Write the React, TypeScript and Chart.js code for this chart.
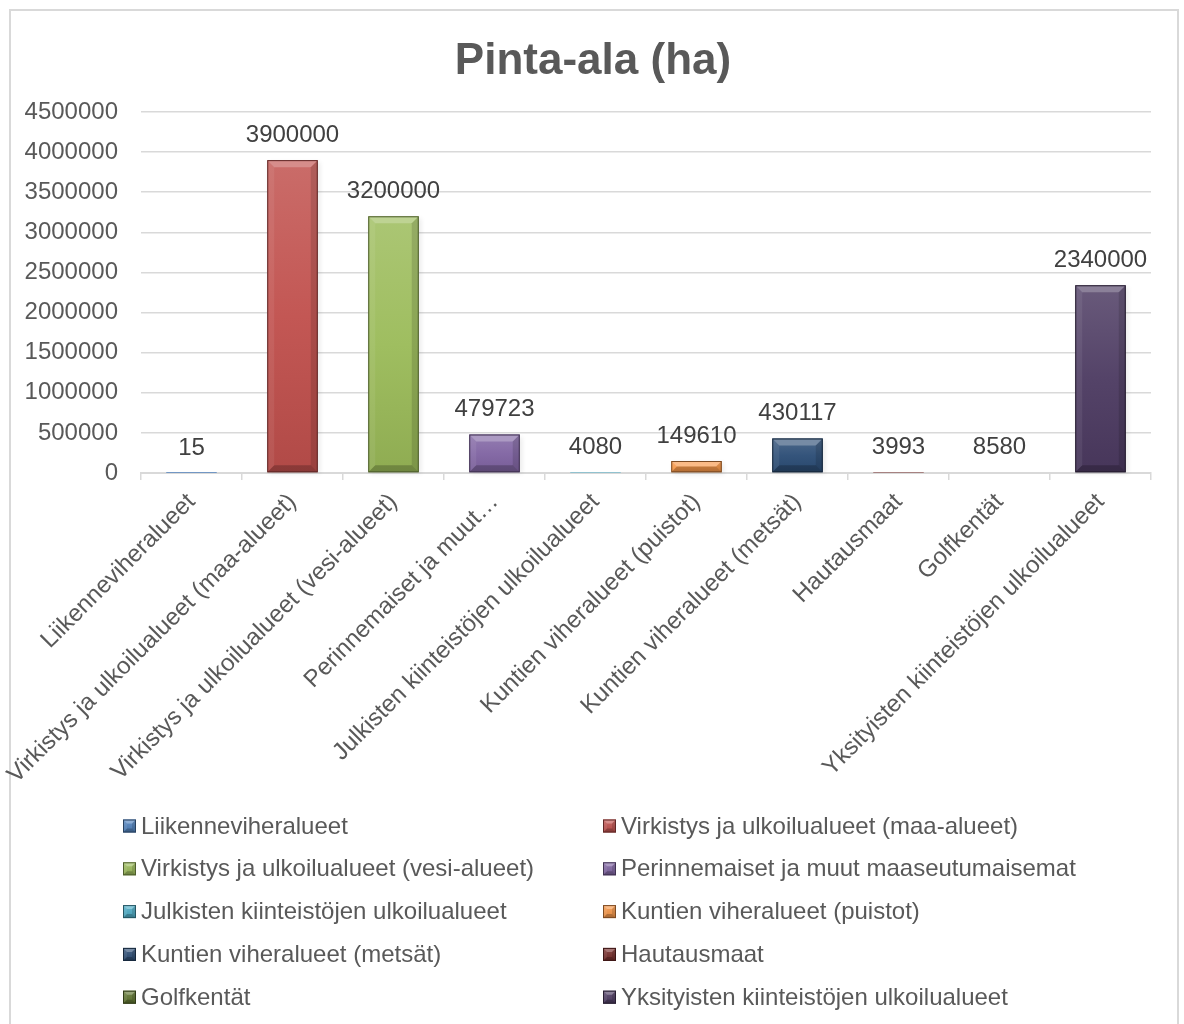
import { useEffect, useRef } from 'react';
import { Chart, registerables } from 'chart.js';

Chart.register(...registerables);

// Land-use categories (legend names) and the shorter axis labels
const categories = [
  'Liikenneviheralueet',
  'Virkistys ja ulkoilualueet (maa-alueet)',
  'Virkistys ja ulkoilualueet (vesi-alueet)',
  'Perinnemaiset ja muut maaseutumaisemat',
  'Julkisten kiinteistöjen ulkoilualueet',
  'Kuntien viheralueet (puistot)',
  'Kuntien viheralueet (metsät)',
  'Hautausmaat',
  'Golfkentät',
  'Yksityisten kiinteistöjen ulkoilualueet',
];

const tickLabels = [
  'Liikenneviheralueet',
  'Virkistys ja ulkoilualueet (maa-alueet)',
  'Virkistys ja ulkoilualueet (vesi-alueet)',
  'Perinnemaiset ja muut…',
  'Julkisten kiinteistöjen ulkoilualueet',
  'Kuntien viheralueet (puistot)',
  'Kuntien viheralueet (metsät)',
  'Hautausmaat',
  'Golfkentät',
  'Yksityisten kiinteistöjen ulkoilualueet',
];

// Area in hectares
const areaHa = [15, 3900000, 3200000, 479723, 4080, 149610, 430117, 3993, 8580, 2340000];

const barColors = [
  '#4F81BD', '#C0504D', '#9BBB59', '#8064A2', '#4BACC6',
  '#F79646', '#2C4D75', '#772C2A', '#5F7530', '#4D3B62',
];

const yMin = 0;
const yMax = 4500000;
const yStep = 500000;

const titleText = 'Pinta-ala (ha)';

const FONT = '"Liberation Sans", Arial, Helvetica, sans-serif';
const TEXT = '#595959';
const GRID = '#d9d9d9';

function shade(hex: string, amt: number): string {
  const n = parseInt(hex.slice(1), 16);
  const r = n >> 16;
  const g = (n >> 8) & 255;
  const b = n & 255;
  const f = (c: number) =>
    amt >= 0 ? Math.round(c + (255 - c) * amt) : Math.round(c * (1 + amt));
  return `rgb(${f(r)},${f(g)},${f(b)})`;
}

function poly(ctx: CanvasRenderingContext2D, pts: number[][], fill: string) {
  ctx.beginPath();
  ctx.moveTo(pts[0][0], pts[0][1]);
  for (let i = 1; i < pts.length; i++) ctx.lineTo(pts[i][0], pts[i][1]);
  ctx.closePath();
  ctx.fillStyle = fill;
  ctx.fill();
}

// Bevel facets over a rectangle, giving the raised "button" look
function bevel(
  ctx: CanvasRenderingContext2D,
  l: number, t: number, r: number, b: number,
  color: string, size: number,
) {
  const w = r - l;
  const h = b - t;
  if (w <= 2 || h < 2) return;
  const e = Math.min(size, w / 2, h / 2);
  poly(ctx, [[l, t], [r, t], [r - e, t + e], [l + e, t + e]], shade(color, 0.35));
  poly(ctx, [[l, t], [l + e, t + e], [l + e, b - e], [l, b]], 'rgba(255,255,255,0.07)');
  poly(ctx, [[r, t], [r, b], [r - e, b - e], [r - e, t + e]], 'rgba(0,0,0,0.13)');
  poly(ctx, [[l, b], [l + e, b - e], [r - e, b - e], [r, b]], 'rgba(0,0,0,0.22)');
  ctx.strokeStyle = shade(color, -0.5);
  ctx.lineWidth = 1;
  ctx.strokeRect(l + 0.5, t + 0.5, w - 1, h - 1);
}

const framePlugin = {
  id: 'frame',
  beforeDraw(chart: any) {
    const { ctx, width, height } = chart;
    ctx.save();
    ctx.fillStyle = '#ffffff';
    ctx.fillRect(0, 0, width, height);
    ctx.strokeStyle = GRID;
    ctx.lineWidth = 2;
    ctx.strokeRect(10, 10, 1168, height + 20);
    ctx.fillStyle = TEXT;
    ctx.font = `bold 44px ${FONT}`;
    ctx.textAlign = 'center';
    ctx.textBaseline = 'middle';
    ctx.fillText(titleText, 593, 62);
    ctx.restore();
  },
};

const barDecorPlugin = {
  id: 'barDecor',
  beforeDatasetsDraw(chart: any) {
    const { ctx } = chart;
    const meta = chart.getDatasetMeta(0);
    ctx.save();
    meta.data.forEach((el: any) => {
      const h = el.base - el.y;
      if (h < 2) return;
      ctx.shadowColor = 'rgba(0,0,0,0.35)';
      ctx.shadowBlur = 5;
      ctx.shadowOffsetX = 2;
      ctx.shadowOffsetY = 2;
      ctx.fillStyle = 'rgba(0,0,0,0.25)';
      ctx.fillRect(el.x - el.width / 2, el.y, el.width, h);
    });
    ctx.restore();
  },
  afterDatasetsDraw(chart: any) {
    const { ctx } = chart;
    const meta = chart.getDatasetMeta(0);
    ctx.save();
    meta.data.forEach((el: any, i: number) => {
      bevel(ctx, el.x - el.width / 2, el.y, el.x + el.width / 2, el.base, barColors[i], 7);
    });
    ctx.fillStyle = '#404040';
    ctx.font = `24px ${FONT}`;
    ctx.textAlign = 'center';
    ctx.textBaseline = 'middle';
    meta.data.forEach((el: any, i: number) => {
      ctx.fillText(String(areaHa[i]), el.x, el.y - 25);
    });
    ctx.restore();
  },
};

const legendPlugin = {
  id: 'twoColumnLegend',
  afterDraw(chart: any) {
    const { ctx } = chart;
    ctx.save();
    ctx.font = `24px ${FONT}`;
    ctx.textAlign = 'left';
    ctx.textBaseline = 'middle';
    categories.forEach((name, i) => {
      const col = i % 2;
      const row = Math.floor(i / 2);
      const mx = col === 0 ? 123 : 603;
      const cy = 826 + row * 42.8;
      const s = 13;
      const c = barColors[i];
      const g = ctx.createLinearGradient(0, cy - s / 2, 0, cy + s / 2);
      g.addColorStop(0, shade(c, 0.15));
      g.addColorStop(1, shade(c, -0.1));
      ctx.fillStyle = g;
      ctx.fillRect(mx, cy - s / 2, s, s);
      bevel(ctx, mx, cy - s / 2, mx + s, cy + s / 2, c, 4);
      ctx.fillStyle = TEXT;
      ctx.fillText(name, mx + 18, cy + 1);
    });
    ctx.restore();
  },
};

export default function App() {
  const canvasRef = useRef<HTMLCanvasElement | null>(null);

  useEffect(() => {
    const canvas = canvasRef.current;
    if (!canvas) return;

    const chart = new Chart(canvas, {
      type: 'bar',
      data: {
        labels: tickLabels,
        datasets: [
          {
            label: 'Pinta-ala (ha)',
            data: areaHa,
            backgroundColor: (c: any) => {
              const i = c.dataIndex ?? 0;
              const base = barColors[i % barColors.length];
              const ch = c.chart;
              if (!ch.chartArea || c.type !== 'data') return base;
              const ys = ch.scales.y;
              const top = ys.getPixelForValue(areaHa[i]);
              const bottom = ys.getPixelForValue(0);
              if (bottom - top < 1) return base;
              const g = ch.ctx.createLinearGradient(0, top, 0, bottom);
              g.addColorStop(0, shade(base, 0.16));
              g.addColorStop(0.5, shade(base, 0.04));
              g.addColorStop(1, shade(base, -0.08));
              return g;
            },
            borderWidth: 0,
            barPercentage: 0.5,
            categoryPercentage: 1,
          },
        ],
      },
      options: {
        responsive: false,
        animation: false,
        devicePixelRatio: 1,
        layout: {
          padding: { top: 112, left: 0, right: 33, bottom: 201 },
        },
        plugins: {
          legend: { display: false },
          title: { display: false },
          tooltip: { enabled: false },
        },
        scales: {
          x: {
            afterFit: (s: any) => {
              s.height = 350;
            },
            grid: {
              offset: true,
              drawOnChartArea: false,
              drawTicks: true,
              tickLength: 7,
              color: GRID,
              lineWidth: 1.5,
            },
            border: { display: true, color: GRID, width: 2 },
            ticks: {
              autoSkip: false,
              minRotation: 45,
              maxRotation: 45,
              padding: 8,
              color: TEXT,
              font: { family: FONT, size: 24 },
            },
          },
          y: {
            min: yMin,
            max: yMax,
            afterFit: (s: any) => {
              s.width = 141;
            },
            grid: {
              drawTicks: false,
              color: GRID,
              lineWidth: 1.5,
            },
            border: { display: false },
            ticks: {
              stepSize: yStep,
              padding: 23,
              color: TEXT,
              font: { family: FONT, size: 24 },
              callback: (v: any) => String(v),
            },
          },
        },
      },
      plugins: [framePlugin, barDecorPlugin, legendPlugin],
    });

    return () => chart.destroy();
  }, []);

  return (
    <div style={{ position: 'absolute', left: 0, top: 0, width: 1184, height: 1024 }}>
      <canvas ref={canvasRef} width={1184} height={1024} />
    </div>
  );
}
